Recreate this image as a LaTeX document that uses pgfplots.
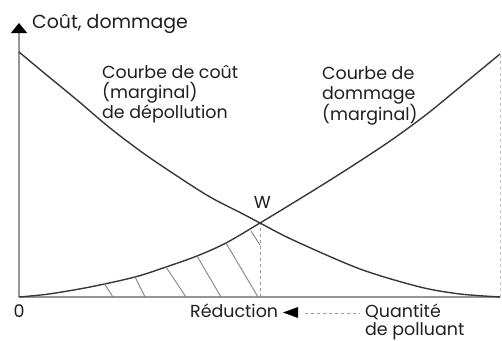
\documentclass[border=0pt]{standalone}
\usepackage{fontspec}
\setmainfont{Poppins}
\usepackage{pgfplots}
\pgfplotsset{compat=1.18}
\usetikzlibrary{arrows.meta}
\definecolor{curve}{RGB}{55,55,55}
\definecolor{axisgray}{RGB}{150,150,150}
\definecolor{hatch}{RGB}{130,130,130}
\tikzset{lbl/.style={font=\fontsize{17.5}{20}\selectfont, text=black!88, inner sep=0pt}}
\begin{document}
\begin{tikzpicture}
\begin{axis}[
  scale only axis, width=481bp, height=245bp,
  xmin=0, xmax=481, ymin=0, ymax=245,
  axis lines=none, clip=false,
]
% axes
\draw[axisgray, line width=1.2pt] (axis cs:0,0) -- (axis cs:481,0);
\draw[axisgray, line width=1.2pt, -{Triangle[width=16bp,length=10bp,black]}] (axis cs:0,0) -- (axis cs:0,274);
\draw[axisgray!60, line width=0.8pt, dashed] (axis cs:481,0) -- (axis cs:481,244);
\draw[axisgray, line width=1pt, dashed] (axis cs:241,0) -- (axis cs:241,74);
% cost curve
\addplot[curve, line width=1.4pt, smooth] coordinates {
 (0,245) (24,225) (58,197) (91,169) (124,144) (158,121) (191,100) (224,83) (241,74)
 (274,57) (341,28) (401,10) (441,3) (481,0)};
% damage curve
\addplot[curve, line width=1.4pt, smooth] coordinates {
 (0,0) (30,3) (71,10) (116,20) (147,30) (178,41) (207,54) (241,74)
 (274,94) (308,115) (341,136) (374,158) (408,183) (441,210) (481,243)};
% hatching
\addplot[hatch, line width=0.9pt] coordinates {(85,14) (94,0)};
\addplot[hatch, line width=0.9pt] coordinates {(116,20) (126,0)};
\addplot[hatch, line width=0.9pt] coordinates {(147,30) (167,0)};
\addplot[hatch, line width=0.9pt] coordinates {(178,41) (202,0)};
\addplot[hatch, line width=0.9pt] coordinates {(207,54) (239,0)};
\addplot[hatch, line width=0.9pt] coordinates {(232,66) (241,52)};
% labels
\node[lbl, font=\fontsize{19}{20}\selectfont, anchor=base west] at (axis cs:13,269) {Coût, dommage};
\node[lbl, anchor=base west] at (axis cs:83,219) {Courbe de coût};
\node[lbl, anchor=base west] at (axis cs:83,199) {(marginal)};
\node[lbl, anchor=base west] at (axis cs:83,179) {de dépollution};
\node[lbl, anchor=base west] at (axis cs:303,218) {Courbe de};
\node[lbl, anchor=base west] at (axis cs:303,198) {dommage};
\node[lbl, anchor=base west] at (axis cs:303,177) {(marginal)};
\node[lbl, anchor=base] at (axis cs:243.5,89) {W};
\node[lbl, anchor=base] at (axis cs:0,-20) {0};
\node[lbl, anchor=base west] at (axis cs:171,-20) {Réduction};
\fill[black] (axis cs:264,-15.5) -- (axis cs:279,-10) -- (axis cs:279,-21) -- cycle;
\draw[axisgray, line width=0.9pt, dashed] (axis cs:286,-16) -- (axis cs:341,-16);
\node[lbl, anchor=base west] at (axis cs:346,-20) {Quantité};
\node[lbl, anchor=base west] at (axis cs:346,-38) {de polluant};
\coordinate (BL) at (axis cs:-19,-44);
\coordinate (TR) at (axis cs:483,297);
\end{axis}
\pgfresetboundingbox
\path[use as bounding box] (BL) rectangle (TR);
\end{tikzpicture}
\end{document}
